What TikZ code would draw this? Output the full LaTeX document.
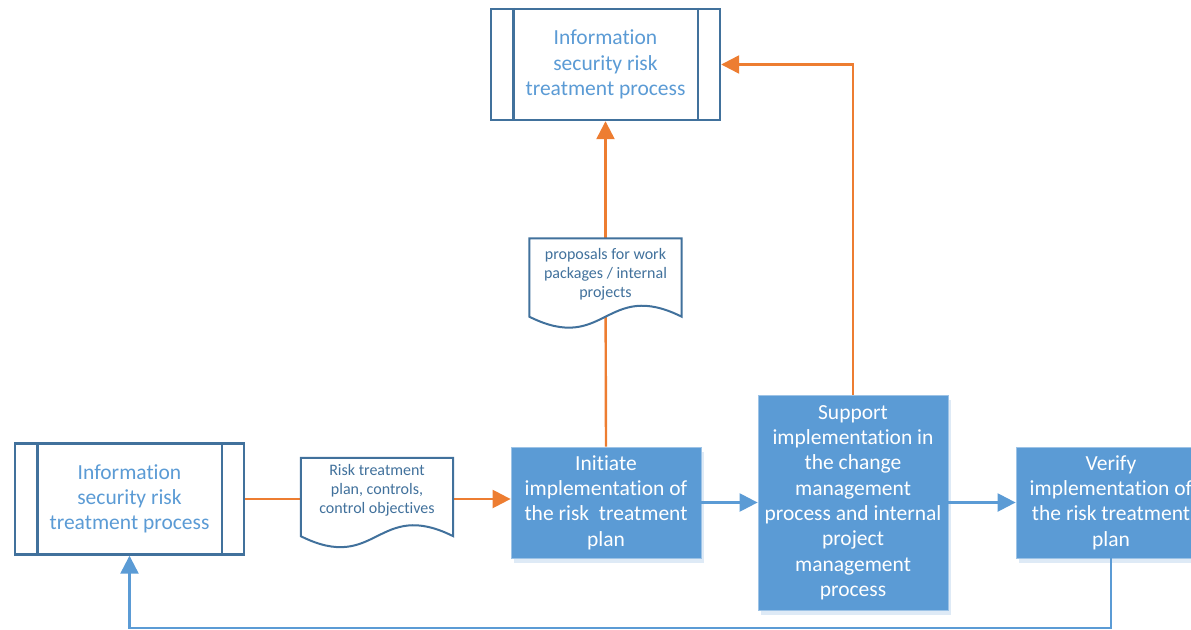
\documentclass[tikz,border=0pt]{standalone}
\usepackage{fontspec}
\setmainfont{Carlito}[Ligatures=NoCommon]
\usetikzlibrary{arrows.meta,shadows}

\definecolor{orangeline}{HTML}{ED7D31}
\definecolor{blueline}{HTML}{5B9BD5}
\definecolor{boxedge}{HTML}{41719C}
\definecolor{procfill}{HTML}{5B9BD5}
\definecolor{shade}{HTML}{DEEAF6}
\definecolor{bigtext}{HTML}{5B9BD5}
\definecolor{doctext}{HTML}{41719C}

\begin{document}
\begin{tikzpicture}[x=1pt,y=-1pt,
  bigfont/.style={font=\fontsize{21.5}{25.3}\selectfont},
  smallfont/.style={font=\fontsize{16}{19}\selectfont},
  predef/.style={draw=boxedge, line width=2.4pt, fill=white,
    minimum width=229pt, minimum height=111pt, inner sep=0pt,
    align=center, text=bigtext, bigfont},
  action/.style={fill=procfill, draw=procfill!60!white, line width=0.8pt,
    minimum width=190pt, inner sep=0pt, align=center, text=white, bigfont,
    general shadow={fill=shade, shadow xshift=3pt, shadow yshift=-5pt}},
  docarea/.style={minimum width=152pt, minimum height=78pt, inner sep=0pt},
  docline/.style={draw=boxedge, line width=2pt, fill=white},
  doclabel/.style={align=center, text=doctext, smallfont, inner sep=0pt},
  orangeflow/.style={draw=orangeline, line width=2.4pt},
  blueflow/.style={draw=blueline, line width=2.4pt},
  tip/.style={-{Triangle[length=18pt,width=18pt]}}
]
\useasboundingbox (0,0) rectangle (1191,629);
\clip (0,0) rectangle (1191,629);

% predefined-process boxes
\node[predef] (tbox) at (605.5,64.5) {Information\\security risk\\treatment process};
\draw[boxedge, line width=2.4pt] ([xshift=23.5pt]tbox.north west) -- ([xshift=23.5pt]tbox.south west)
  ([xshift=-23.5pt]tbox.north east) -- ([xshift=-23.5pt]tbox.south east);

\node[predef] (lbox) at (129.5,499) {Information\\security risk\\treatment process};
\draw[boxedge, line width=2.4pt] ([xshift=23.5pt]lbox.north west) -- ([xshift=23.5pt]lbox.south west)
  ([xshift=-23.5pt]lbox.north east) -- ([xshift=-23.5pt]lbox.south east);

% process steps
\node[action, minimum height=111pt] (init) at (606,502.5)
  {Initiate\\implementation of\\the risk\ \ treatment\\plan};
\node[action, minimum height=215pt] (support) at (853,502.5)
  {Support\\implementation in\\the change\\management\\process and internal\\project\\management\\process};
\node[action, minimum height=111pt] (verify) at (1111,502.5)
  {Verify\\implementation of\\the risk treatment\\plan};

% document areas (outline drawn after the connectors)
\node[docarea] (doc1) at (377,497) {};
\node[docarea] (doc2) at (605.5,277.5) {};

% connectors
\draw[orangeflow] (lbox.east) -- (doc1.west |- lbox.east);
\draw[orangeflow, tip] (doc1.east |- lbox.east) -- (init.west |- lbox.east);
\draw[orangeflow] (init.north) -- (doc2.center);
\draw[orangeflow, tip] (doc2.north) -- (tbox.south);
\draw[orangeflow, tip] (support.north) |- (tbox.east);
\draw[blueflow, tip] (init.east) -- (support.west |- init.east);
\draw[blueflow, tip] (support.east |- verify.west) -- (verify.west);
\coordinate (loopy) at (0,628);
\draw[blueflow, tip] (verify.south) -- (verify.south |- loopy) -- (lbox.south |- loopy) -- (lbox.south);

% document outlines with wavy bottom edge (crest on the right, trough on the left)
\foreach \d in {doc1,doc2}{
  \draw[docline] (\d.north west) -- (\d.north east) -- (\d.south east)
    .. controls ([yshift=38pt]\d.south) and ([yshift=-38pt]\d.south)
    .. (\d.south west) -- cycle;
}
\node[doclabel] at ([yshift=7pt]doc1.center) {Risk treatment\\plan, controls,\\control objectives};
\node[doclabel] at ([yshift=3.5pt]doc2.center) {proposals for work\\packages / internal\\projects};
\end{tikzpicture}
\end{document}
